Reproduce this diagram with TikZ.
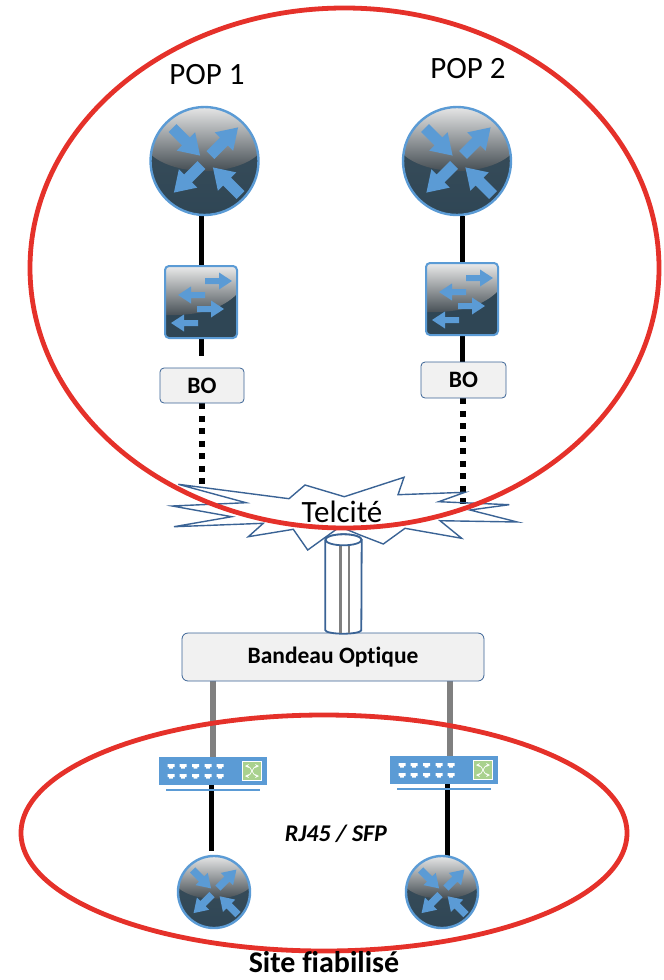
\documentclass[tikz,border=0pt]{standalone}
\usepackage{fontspec}
\setmainfont[Ligatures=NoCommon]{Carlito}
\usetikzlibrary{shapes.geometric,backgrounds}
\definecolor{iconblue}{HTML}{5B9BD5}
\definecolor{icondark}{HTML}{2F4655}
\definecolor{boxedge}{HTML}{3A6395}
\definecolor{ringred}{HTML}{E5312A}
\definecolor{boxfill}{HTML}{F1F1F1}
\definecolor{portgreen}{HTML}{A9D18E}
\tikzset{
  link/.style={line width=5pt,black},
  greylink/.style={line width=6pt,black!50},
  dotlink/.style={line width=6pt,black,dash pattern=on 6pt off 6.5pt},
  ring/.style={draw=ringred,line width=4.8pt},
  bobox/.style={draw=boxedge,fill=boxfill,rounded corners=4pt,line width=.8pt,font=\fontsize{23.5}{26}\selectfont\bfseries},
  bigtext/.style={font=\fontsize{31}{34}\selectfont},
  fatarrow/.style n args={4}{insert path={(0,-#3)--(#1-#2,-#3)--(#1-#2,-#4)--(#1,0)--(#1-#2,#4)--(#1-#2,#3)--(0,#3)--cycle}},
  pics/router/.style={code={
    \shade[top color=icondark!85!gray,bottom color=icondark] (0,0) circle (54);
    \begin{scope}
      \clip (0,0) circle (54);
      \shade[top color=black!8,bottom color=black!52!icondark!80!white] (0,-23) ellipse (62 and 33);
    \end{scope}
    \foreach \px/\py/\ang in {-32/-33/-45,6/-6/45,-3/4/225,36/34/135}
      \fill[iconblue,shift={(\px,\py)},rotate=\ang,fatarrow={39}{20}{5.5}{13}];
    \node[circle,draw=iconblue,line width=2.4pt,minimum size=108pt,inner sep=0pt,transform shape] (-body) at (0,0) {};
  }},
  pics/crossbox/.style={code={
    \fill[icondark,rounded corners=4pt] (-36,-36) rectangle (36,36);
    \begin{scope}
      \clip[rounded corners=4pt] (-36,-36) rectangle (36,36);
      \shade[top color=black!8,bottom color=black!52!icondark!80!white] (-36,-36) -- (36,-36) -- (36,-8) .. controls (22,6) and (0,14) .. (-36,13) -- cycle;
    \end{scope}
    \foreach \px/\py/\ang in {4/-21/0,4/-7/180,-4/7/0,-3/21/180}
      \fill[iconblue,shift={(\px,\py)},rotate=\ang,fatarrow={27}{13}{3}{8.5}];
    \node[rectangle,rounded corners=4pt,draw=iconblue,line width=2pt,minimum size=72pt,inner sep=0pt] (-body) at (0,0) {};
  }},
  pics/flatswitch/.style={code={
    \node[rectangle,fill=iconblue,draw=none,minimum width=108pt,minimum height=28pt,inner sep=0pt] (-body) at (0,0) {};
    \fill[iconblue] (-47,17.5) rectangle (47,20);
    \foreach \px in {-42,-30,-17.5,-5,7}
      \foreach \py in {-5,5}
        \fill[white] (\px-3.5,\py-2) rectangle (\px+3.5,\py+1) (\px-1.8,\py+1) rectangle (\px+1.8,\py+2.5);
    \fill[portgreen,draw=white,line width=1pt] (29.5,-9.5) rectangle (48.5,9.5);
    \draw[white,line width=.7pt,<->,>=stealth] (32,-5) .. controls (38,-5) and (40,5) .. (46,5);
    \draw[white,line width=.7pt,<->,>=stealth] (32,5) .. controls (38,5) and (40,-5) .. (46,-5);
  }}
}
\begin{document}
\begin{tikzpicture}[x=1pt,y=-1pt]
    \useasboundingbox (0,0) rectangle (664,980);

    \pic (R1) at (204.5,161) {router};
    \pic (R2) at (457,161) {router};
    \pic (S1) at (201,302) {crossbox};
    \pic (S2) at (462,299) {crossbox};
    \pic[scale=.667] (R3) at (214,892) {router};
    \pic[scale=.667] (R4) at (442,892) {router};
    \pic (F1) at (213,771) {flatswitch};
    \pic (F2) at (444,770) {flatswitch};

    \node[bobox,minimum width=84pt,minimum height=35pt,inner sep=0pt] (BO1) at (202,385.5) {BO};
    \node[bobox,minimum width=85pt,minimum height=36pt,inner sep=0pt] (BO2) at (463.5,380) {BO};
    \node[bobox,minimum width=302pt,minimum height=48pt,inner sep=0pt,rounded corners=6pt] (BAND) at (333,657) {Bandeau Optique};

    \coordinate (S1end) at (201,356);
    \coordinate (S2end) at (462,362);
    \coordinate (DOT1) at (202,488);
    \coordinate (DOT2) at (463,510);
    \coordinate (R3top) at (211.5,851);
    \coordinate (R4top) at (447,858);
    \coordinate (F2top) at (449.5,757);

    \begin{pgfonlayer}{background}
      \path[link]
        (S1-body.north) edge (R1-body.south -| S1-body.north)
        (S2-body.north) edge (R2-body.south -| S2-body.north)
        (S1-body.south) edge (S1end)
        (S2-body.south) edge (S2end)
        (F1-body.south -| R3top) edge (R3top)
        (F2-body.south -| R4top) edge (R4top);
      \path[greylink]
        (BAND.south -| F1-body.north) edge (F1-body.north)
        (BAND.south -| F2top) edge (F2top);
      \path[dotlink]
        (BO1.south) edge (DOT1)
        (BO2.south -| DOT2) edge (DOT2);
    \end{pgfonlayer}

    \draw[boxedge,line width=1.4pt] (178.3,484.3) -- (289,498.7) -- (305,485) -- (344.3,496.7) -- (404,477.3) -- (398,494.7) -- (465,492.3) -- (438.7,501.7) -- (509.3,504.7) -- (470,510) -- (517.3,522) -- (440,520.7) -- (461.7,538.3) -- (405,528.3) -- (383.3,544) -- (360,535) -- (340,526.7) -- (307.7,550) -- (293.3,529.3) -- (248.3,536.7) -- (263.3,523.3) -- (174,526.7) -- (231.7,516.7) -- (172.3,506) -- (246,502.7) -- cycle;

    \node[inner sep=0pt,minimum width=36pt,minimum height=90pt] (TUBE) at (343.5,585) {};
    \draw[boxedge,fill=white,line width=1.8pt] (TUBE.north west) -- (TUBE.south west) arc[start angle=180,end angle=360,x radius=18,y radius=-3.5] -- (TUBE.north east) arc[start angle=0,end angle=180,x radius=18,y radius=-5.5];
    \draw[line width=2.6pt,black!50] ([xshift=-3pt]TUBE.north) -- ([xshift=-3pt,yshift=-3pt]TUBE.south);
    \draw[line width=2.6pt,black!50] ([xshift=5.5pt]TUBE.north) -- ([xshift=5.5pt,yshift=-3pt]TUBE.south);
    \draw[boxedge,fill=white,line width=1.8pt] (TUBE.north) ellipse (18 and 5.5);

    \node[ring,ellipse,minimum width=629pt,minimum height=520pt,inner sep=0pt] (TOPRING) at (344.5,268) {};
    \node[ring,ellipse,minimum width=606pt,minimum height=236pt,inner sep=0pt] (SITERING) at (324,833) {};

    \node[bigtext] (POP1) at (207,75) {POP 1};
    \node[bigtext] (POP2) at (468,69) {POP 2};
    \node[bigtext] (TEL) at (342,512) {Telcité};
    \node[font=\fontsize{24}{27}\selectfont\bfseries\itshape] (RJ) at (336,834) {RJ45 / SFP};
    \node[inner sep=0pt,font=\fontsize{30}{32}\selectfont\bfseries] (SITE) at (324,962) {Site fiabilisé};
  \end{tikzpicture}
\end{document}
